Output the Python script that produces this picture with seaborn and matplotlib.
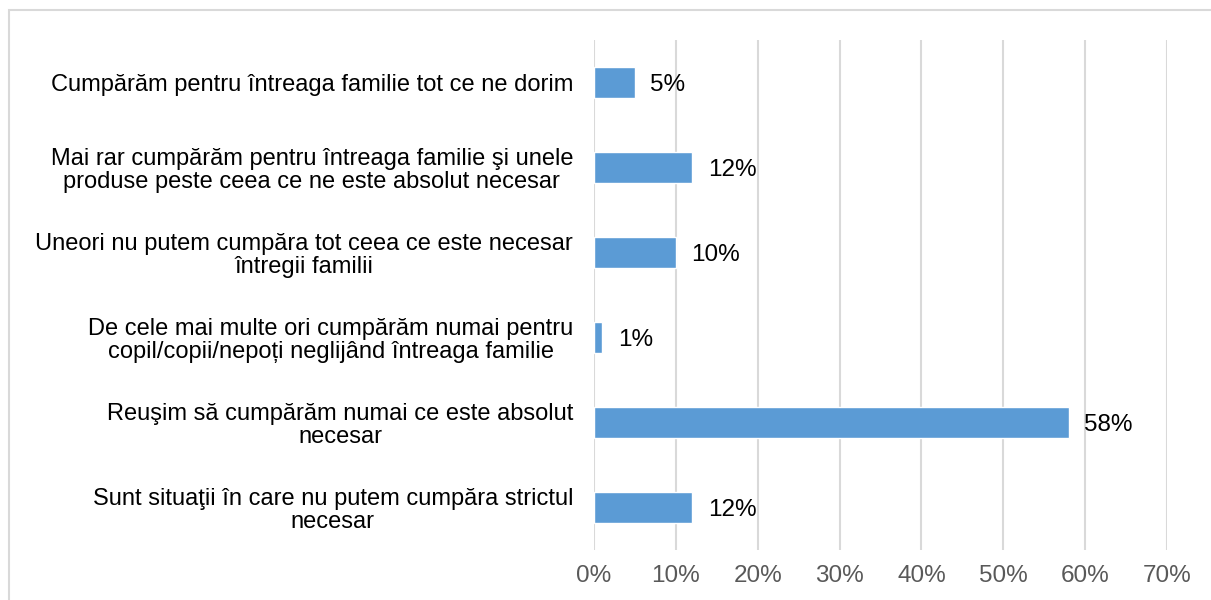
import matplotlib
matplotlib.use("Agg")
import matplotlib.pyplot as plt
import seaborn as sns
import pandas as pd
from matplotlib.patches import Rectangle

categories = [
    "Cumpărăm pentru întreaga familie tot ce ne dorim",
    "Mai rar cumpărăm pentru întreaga familie şi unele\nproduse peste ceea ce ne este absolut necesar",
    "Uneori nu putem cumpăra tot ceea ce este necesar\nîntregii familii",
    "De cele mai multe ori cumpărăm numai pentru\ncopil/copii/nepoți neglijând întreaga familie",
    "Reuşim să cumpărăm numai ce este absolut\nnecesar",
    "Sunt situaţii în care nu putem cumpăra strictul\nnecesar",
]
values = [5, 12, 10, 1, 58, 12]
xticks = [0, 10, 20, 30, 40, 50, 60, 70]

sns.set_theme(style="white")
plt.rcParams['font.family'] = ['Liberation Sans', 'DejaVu Sans']

df = pd.DataFrame({"cat": categories, "val": values})

fig = plt.figure(figsize=(12.11, 6.0), dpi=100)
ax = fig.add_axes([594/1211, 1-550/600, (1167-594)/1211, 510/600])

sns.barplot(data=df, x="val", y="cat", color="#5B9BD5", saturation=1,
            width=0.36, ax=ax, orient="h")

ax.set_xlim(0, 70)
ax.set_xticks(xticks)
ax.set_xticklabels([f"{t}%" for t in xticks], color="#595959", fontsize=17.5)
ax.tick_params(axis='x', length=0, pad=11)
ax.tick_params(axis='y', length=0, pad=15)
for lbl in ax.get_yticklabels():
    lbl.set_fontsize(17)
    lbl.set_color("black")
    lbl.set_multialignment("center")
    lbl.set_linespacing(1.05)
ax.set_xlabel("")
ax.set_ylabel("")
ax.grid(axis='x', color="#D9D9D9", linewidth=1.5)
ax.set_axisbelow(True)
for s in ax.spines.values():
    s.set_visible(False)

for i, v in enumerate(values):
    ax.text(v + 1.9, i + 0.03, f"{v}%", va="center", ha="left", fontsize=17.5, color="black")

fig.patches.append(Rectangle((9/1211, -0.1), 1.2, 1 - 10/600 + 0.1,
                             transform=fig.transFigure, fill=False,
                             edgecolor="#D9D9D9", linewidth=1.5))

fig.savefig("out.png", dpi=100)
